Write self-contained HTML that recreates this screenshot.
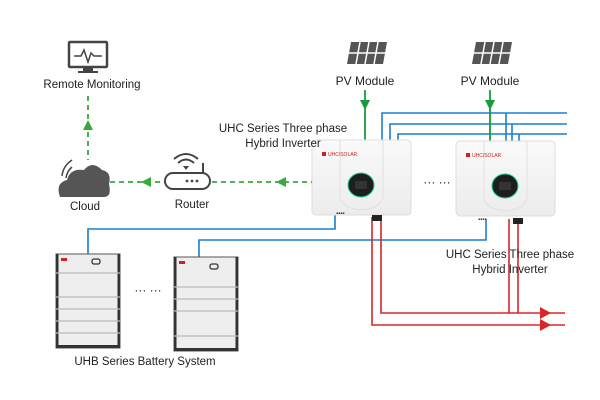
<!DOCTYPE html>
<html><head><meta charset="utf-8"><style>
html,body{margin:0;padding:0;background:#fff;}
svg{display:block;font-family:"Liberation Sans",sans-serif;}
</style></head><body>
<svg width="600" height="400" viewBox="0 0 600 400">
<defs>
<linearGradient id="inv" x1="0" y1="0" x2="0" y2="1"><stop offset="0" stop-color="#fafafa"/><stop offset="1" stop-color="#ececec"/></linearGradient>
<g id="panel">
<polygon points="4,0 40,0 36,22 0,22" fill="#555"/>
<line x1="13" y1="0" x2="9" y2="22" stroke="#fff" stroke-width="1.5"/>
<line x1="22" y1="0" x2="18" y2="22" stroke="#fff" stroke-width="1.5"/>
<line x1="31" y1="0" x2="27" y2="22" stroke="#fff" stroke-width="1.5"/>
<line x1="2" y1="11" x2="38" y2="11" stroke="#fff" stroke-width="1.5"/>
</g>
<g id="inverter">
<rect x="0" y="0" width="99" height="75" rx="4" fill="url(#inv)" stroke="#ddd"/>
<path d="M28 0 L28 55 Q28 68 49 70 Q71 68 71 55 L71 0" fill="none" stroke="#e0e0e0"/>
<rect x="10" y="12" width="4" height="4" fill="#c22"/>
<text x="16" y="16" font-size="5" fill="#c22">UHC/SOLAR</text>
<ellipse cx="49" cy="45" rx="13" ry="12" fill="#1e1e1e" stroke="#2c9" stroke-width="1"/>
<rect x="43" y="41" width="12" height="8" fill="#333"/>
</g>
</defs>

<!-- blue lines -->
<g fill="none" stroke="#1a7fd0" stroke-width="1.6">
<polyline points="382,140 382,113 567,113"/>
<polyline points="390,140 390,124 567,124"/>
<polyline points="398,140 398,134 567,134"/>
<line x1="506" y1="113" x2="506" y2="141"/>
<line x1="512" y1="124" x2="512" y2="141"/>
<line x1="519" y1="134" x2="519" y2="141"/>
<polyline points="88,254 88,229 335,229 335,215"/>
<polyline points="199,257 199,240 486,240 486,219"/>
</g>
<!-- red lines -->
<g fill="none" stroke="#d8262b" stroke-width="1.6">
<polyline points="372,217 372,325 565,325"/>
<polyline points="381,217 381,313 565,313"/>
<line x1="509" y1="219" x2="509" y2="313"/>
<line x1="518" y1="219" x2="518" y2="313"/>
</g>
<polygon points="540,307 551,313 540,319" fill="#d8262b"/>
<polygon points="540,319 551,325 540,331" fill="#d8262b"/>

<!-- PV -->
<use href="#panel" x="347" y="42"/>
<use href="#panel" x="472" y="42"/>
<text x="365" y="85" font-size="12" text-anchor="middle" fill="#222">PV Module</text>
<text x="490" y="85" font-size="12" text-anchor="middle" fill="#222">PV Module</text>
<g stroke="#1a9a3a" stroke-width="1.8"><line x1="365" y1="90" x2="365" y2="140"/><line x1="490" y1="90" x2="490" y2="141"/></g>
<polygon points="360,100 370,100 365,110" fill="#1a9a3a"/>
<polygon points="485,100 495,100 490,110" fill="#1a9a3a"/>

<!-- inverters -->
<use href="#inverter" x="312" y="140"/>
<use href="#inverter" x="456" y="141"/>
<rect x="372" y="215" width="10" height="6" fill="#222"/>
<rect x="513" y="218" width="10" height="6" fill="#222"/>
<text x="336" y="215" font-size="6" fill="#333">▪▪▪▪</text>
<text x="478" y="221" font-size="6" fill="#333">▪▪▪▪</text>
<text x="437" y="186" font-size="12" text-anchor="middle" fill="#222">··· ···</text>
<text x="283" y="132" font-size="11.5" text-anchor="middle" fill="#222">UHC Series Three phase</text>
<text x="283" y="147" font-size="11.5" text-anchor="middle" fill="#222">Hybrid Inverter</text>
<text x="510" y="258" font-size="11.5" text-anchor="middle" fill="#222">UHC Series Three phase</text>
<text x="510" y="273" font-size="11.5" text-anchor="middle" fill="#222">Hybrid Inverter</text>

<!-- batteries -->
<g transform="translate(56,254)">
<rect x="0" y="0" width="64" height="94" fill="#eee" stroke="#555" stroke-width="1"/>
<rect x="0" y="0" width="2.5" height="94" fill="#333"/><rect x="61.5" y="0" width="2.5" height="94" fill="#333"/><rect x="0" y="91" width="64" height="3" fill="#333"/>
<rect x="5" y="4" width="6" height="3" fill="#c22"/>
<rect x="36" y="5" width="8" height="5" rx="2" fill="none" stroke="#333" stroke-width="1.3"/>
<g stroke="#bbb" stroke-width="1.3"><line x1="0" y1="19" x2="64" y2="19"/><line x1="0" y1="43" x2="64" y2="43"/><line x1="0" y1="55" x2="64" y2="55"/><line x1="0" y1="67" x2="64" y2="67"/><line x1="0" y1="79" x2="64" y2="79"/></g>
</g>
<g transform="translate(174,257)">
<rect x="0" y="0" width="64" height="94" fill="#eee" stroke="#555" stroke-width="1"/>
<rect x="0" y="0" width="2.5" height="94" fill="#333"/><rect x="61.5" y="0" width="2.5" height="94" fill="#333"/><rect x="0" y="91" width="64" height="3" fill="#333"/>
<rect x="5" y="4" width="6" height="3" fill="#c22"/>
<rect x="36" y="7" width="8" height="5" rx="2" fill="none" stroke="#333" stroke-width="1.3"/>
<g stroke="#bbb" stroke-width="1.3"><line x1="0" y1="30" x2="64" y2="30"/><line x1="0" y1="42" x2="64" y2="42"/><line x1="0" y1="54" x2="64" y2="54"/><line x1="0" y1="79" x2="64" y2="79"/></g>
</g>
<text x="148" y="294" font-size="12" text-anchor="middle" fill="#222">··· ···</text>
<text x="145" y="365" font-size="11.5" text-anchor="middle" fill="#222">UHB Series Battery System</text>

<!-- green dashed -->
<g stroke="#3aa83a" stroke-width="1.8" stroke-dasharray="5,4" fill="none">
<line x1="88" y1="96" x2="88" y2="160"/>
<line x1="110" y1="182" x2="165" y2="182"/>
<line x1="212" y1="182" x2="312" y2="182"/>
</g>
<polygon points="83,130 93,130 88,120" fill="#3aa83a"/>
<polygon points="141,182 151,177 151,187" fill="#3aa83a"/>
<polygon points="276,182 286,177 286,187" fill="#3aa83a"/>

<!-- monitor -->
<rect x="69" y="42" width="38" height="25" rx="1" fill="#fff" stroke="#444" stroke-width="2.5"/>
<rect x="83" y="67" width="10" height="4" fill="#444"/>
<rect x="78" y="71" width="20" height="2" fill="#444"/>
<polyline points="74,56 81,56 84,50 88,62 91,53 94,56 102,56" fill="none" stroke="#444" stroke-width="1.5"/>
<text x="92" y="88" font-size="11.5" text-anchor="middle" fill="#222">Remote Monitoring</text>

<!-- cloud -->
<path d="M60,197 Q55,183 67,180 Q70,168 84,170 Q92,160 102,170 Q112,172 109,184 Q112,197 104,197 Z" fill="#555"/>
<path d="M62,176 Q63,166 72,160 M66,178 Q67,171 72,167" fill="none" stroke="#444" stroke-width="1.5"/>
<text x="85" y="210" font-size="11.5" text-anchor="middle" fill="#222">Cloud</text>

<!-- router -->
<rect x="165" y="173" width="45" height="16" rx="8" fill="#fff" stroke="#444" stroke-width="2"/>
<circle cx="187" cy="181" r="1.4" fill="#444"/><circle cx="192" cy="181" r="1.4" fill="#444"/><circle cx="197" cy="181" r="1.4" fill="#444"/>
<line x1="203" y1="173" x2="203" y2="163" stroke="#444" stroke-width="2"/>
<path d="M174,159 Q186,149 198,159 M178,163 Q186,156 194,163" fill="none" stroke="#444" stroke-width="2"/>
<polygon points="183,166 189,166 186,170" fill="#444"/>
<text x="192" y="208" font-size="11.5" text-anchor="middle" fill="#222">Router</text>
</svg>
</body></html>
